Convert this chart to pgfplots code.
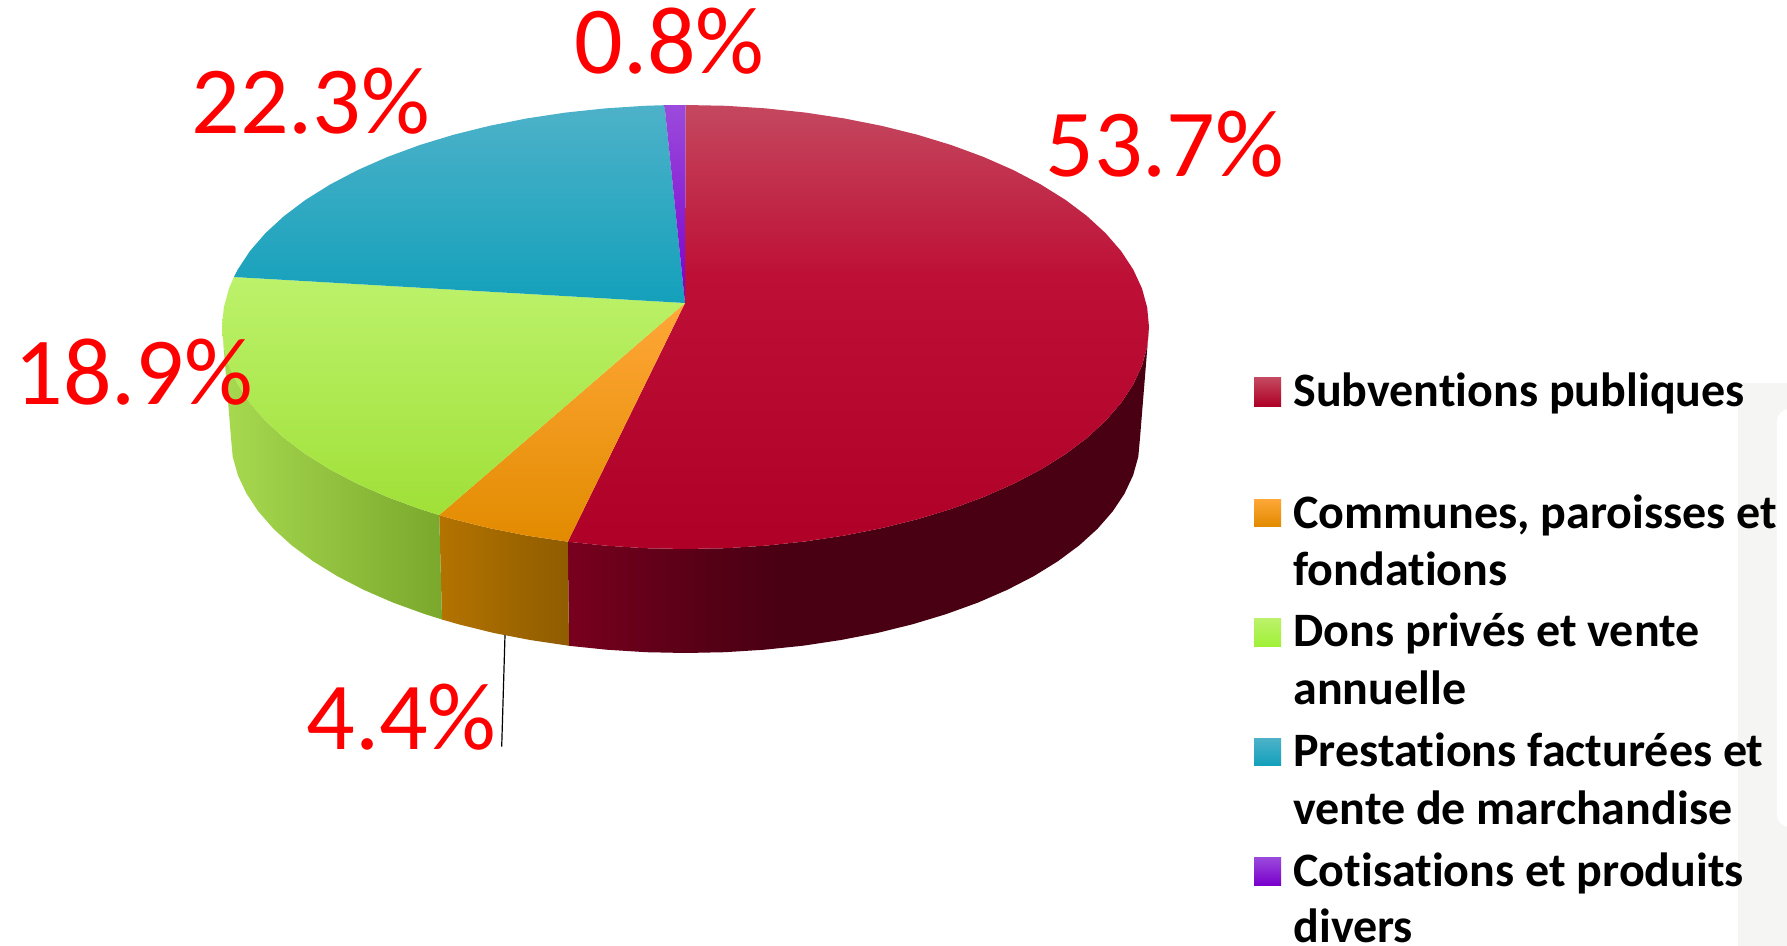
\documentclass[border=0pt]{standalone}
\usepackage{pgfplots}
\pgfplotsset{compat=1.18}
\usepackage{fontspec}
\setmainfont[Ligatures=NoCommon]{Carlito}
\definecolor{lbl}{HTML}{FF0000}
\definecolor{crA}{RGB}{196,72,95}
\definecolor{crB}{RGB}{190,16,54}
\definecolor{crC}{RGB}{175,0,39}
\definecolor{sdA}{RGB}{120,0,30}
\definecolor{sdB}{RGB}{86,0,22}
\definecolor{sdC}{RGB}{72,0,18}
\pgfdeclareverticalshading{crimsontop}{100bp}{color(0bp)=(crC); color(25bp)=(crC); color(56bp)=(crB); color(75bp)=(crA); color(100bp)=(crA)}
\pgfdeclarehorizontalshading{crimsonside}{100bp}{color(0bp)=(sdA); color(25bp)=(sdA); color(37bp)=(sdB); color(44bp)=(sdC); color(100bp)=(sdC)}
\newcommand{\pct}[1]{\fontsize{48}{56}\selectfont\color{lbl}#1}
\newcommand{\lgd}[1]{\fontsize{24}{28}\selectfont\bfseries #1}
\begin{document}
\begin{tikzpicture}
\useasboundingbox (0,0) rectangle (893.5pt,473pt);
\begin{axis}[
  scale only axis, width=893.5pt, height=473pt,
  xmin=0, xmax=1787, ymin=0, ymax=946, y dir=reverse,
  hide axis, clip=true]
% grey panel
\addplot[draw=none, fill={rgb,255:red,245;green,245;blue,243}] coordinates {(1738,383) (1787,383) (1787,946) (1738,946)} --cycle;
\addplot[draw=none, fill=white, rounded corners=6pt] coordinates {(1777,409) (1800,409) (1800,827) (1777,827)} --cycle;
% side faces
\addplot[draw=none, shading=crimsonside] coordinates {(1149,327) (1147.2,346.4) (1142,365.5) (1133.2,384.5) (1121.1,402.9) (1105.6,420.8) (1086.9,438) (1065.2,454.3) (1040.5,469.7) (1013.2,484) (983.4,497.1) (951.4,508.9) (917.3,519.3) (881.4,528.2) (844,535.6) (805.5,541.4) (766,545.6) (725.9,548.2) (685.5,549) (645.1,548.2) (605,545.6) (567.8,541.7) (569,645.8) (606.6,649.7) (645.9,652.2) (685.5,653) (725.1,652.2) (764.4,649.7) (803.1,645.7) (840.9,640) (877.6,632.9) (912.8,624.2) (946.2,614.1) (977.7,602.7) (1006.9,590) (1033.7,576.2) (1057.8,561.3) (1079.1,545.5) (1097.4,528.9) (1112.6,511.5) (1124.5,493.6) (1133.1,475.3) (1138.3,456.7) (1140,438)} --cycle;
\addplot[draw=none, left color={rgb,255:red,179;green,115;blue,0}, right color={rgb,255:red,143;green,92;blue,0}] coordinates {(567.8,541.7) (527,535.6) (489.6,528.2) (453.7,519.3) (439.2,515.1) (442,619.5) (458.2,624.2) (493.4,632.9) (530.1,640) (569,645.8)} --cycle;
\addplot[draw=none, left color={rgb,255:red,168;green,218;blue,80}, right color={rgb,255:red,122;green,168;blue,44}] coordinates {(439.2,515.1) (419.6,508.9) (387.6,497.1) (357.8,484) (330.5,469.7) (305.8,454.3) (284.1,438) (265.4,420.8) (249.9,402.9) (237.8,384.5) (229,365.5) (223.8,346.4) (222,327) (231,438) (232.7,456.7) (237.9,475.3) (246.5,493.6) (258.4,511.5) (273.6,528.9) (291.9,545.5) (313.2,561.3) (337.3,576.2) (364.1,590) (393.3,602.7) (424.8,614.1) (442,619.5)} --cycle;
% top faces
\addplot[draw=none, shading=crimsontop] coordinates {(685,303) (685.5,105) (725.9,105.8) (766,108.4) (805.5,112.6) (844,118.4) (881.4,125.8) (917.3,134.7) (951.4,145.1) (983.4,156.9) (1013.2,170) (1040.5,184.3) (1065.2,199.7) (1086.9,216) (1105.6,233.2) (1121.1,251.1) (1133.2,269.5) (1142,288.5) (1147.2,307.6) (1149,327) (1147.2,346.4) (1142,365.5) (1133.2,384.5) (1121.1,402.9) (1105.6,420.8) (1086.9,438) (1065.2,454.3) (1040.5,469.7) (1013.2,484) (983.4,497.1) (951.4,508.9) (917.3,519.3) (881.4,528.2) (844,535.6) (805.5,541.4) (766,545.6) (725.9,548.2) (685.5,549) (645.1,548.2) (605,545.6) (567.8,541.7)} --cycle;
\addplot[draw=none, top color={rgb,255:red,255;green,167;blue,56}, middle color={rgb,255:red,255;green,158;blue,18}, bottom color={rgb,255:red,226;green,139;blue,0}] coordinates {(685,303) (567.8,541.7) (527,535.6) (489.6,528.2) (453.7,519.3) (439.2,515.1)} --cycle;
\addplot[draw=none, top color={rgb,255:red,188;green,242;blue,107}, middle color={rgb,255:red,176;green,245;blue,74}, bottom color={rgb,255:red,160;green,224;blue,56}] coordinates {(685,303) (439.2,515.1) (419.6,508.9) (387.6,497.1) (357.8,484) (330.5,469.7) (305.8,454.3) (284.1,438) (265.4,420.8) (249.9,402.9) (237.8,384.5) (229,365.5) (223.8,346.4) (222,327) (223.8,307.6) (229,288.5) (233.9,277)} --cycle;
\addplot[draw=none, top color={rgb,255:red,77;green,178;blue,201}, middle color={rgb,255:red,34;green,175;blue,203}, bottom color={rgb,255:red,20;green,160;blue,187}] coordinates {(685,303) (233.9,277) (237.8,269.5) (249.9,251.1) (265.4,233.2) (284.1,216) (305.8,199.7) (330.5,184.3) (357.8,170) (387.6,156.9) (419.6,145.1) (453.7,134.7) (489.6,125.8) (527,118.4) (565.5,112.6) (605,108.4) (645.1,105.8) (664.5,105.2)} --cycle;
\addplot[draw=none, top color={rgb,255:red,155;green,75;blue,220}, bottom color={rgb,255:red,122;green,0;blue,204}] coordinates {(685,303) (664.5,105.2) (685.5,105)} --cycle;
% leader
\addplot[black, line width=0.6pt] coordinates {(505,635) (501.7,746.7)};
% legend keys
\addplot[draw=none, top color={rgb,255:red,196;green,72;blue,95}, bottom color={rgb,255:red,175;green,0;blue,39}] coordinates {(1254,378) (1281,378) (1281,406) (1254,406)} --cycle;
\addplot[draw=none, top color={rgb,255:red,255;green,167;blue,56}, bottom color={rgb,255:red,226;green,139;blue,0}] coordinates {(1254,499) (1281,499) (1281,526) (1254,526)} --cycle;
\addplot[draw=none, top color={rgb,255:red,188;green,242;blue,107}, bottom color={rgb,255:red,160;green,240;blue,56}] coordinates {(1254,618) (1281,618) (1281,646) (1254,646)} --cycle;
\addplot[draw=none, top color={rgb,255:red,77;green,178;blue,201}, bottom color={rgb,255:red,20;green,160;blue,187}] coordinates {(1254,738) (1281,738) (1281,765) (1254,765)} --cycle;
\addplot[draw=none, top color={rgb,255:red,155;green,75;blue,220}, bottom color={rgb,255:red,122;green,0;blue,204}] coordinates {(1254,857) (1281,857) (1281,885) (1254,885)} --cycle;
% labels
\node[anchor=base west, inner sep=0pt] at (axis cs:574,74) {\pct{0.8\%}};
\node[anchor=base west, inner sep=0pt] at (axis cs:191,134) {\pct{22.3\%}};
\node[anchor=base west, inner sep=0pt] at (axis cs:1045,177) {\pct{53.7\%}};
\node[anchor=base west, inner sep=0pt] at (axis cs:14,405) {\pct{18.9\%}};
\node[anchor=base west, inner sep=0pt] at (axis cs:306,749) {\pct{4.4\%}};
% legend text
\node[anchor=base west, inner sep=0pt] at (axis cs:1293,407) {\lgd{Subventions publiques}};
\node[anchor=base west, inner sep=0pt] at (axis cs:1293,528) {\lgd{Communes, paroisses et}};
\node[anchor=base west, inner sep=0pt] at (axis cs:1293,585) {\lgd{fondations}};
\node[anchor=base west, inner sep=0pt] at (axis cs:1293,646) {\lgd{Dons privés et vente}};
\node[anchor=base west, inner sep=0pt] at (axis cs:1293,704) {\lgd{annuelle}};
\node[anchor=base west, inner sep=0pt] at (axis cs:1293,766) {\lgd{Prestations facturées et}};
\node[anchor=base west, inner sep=0pt] at (axis cs:1293,824) {\lgd{vente de marchandise}};
\node[anchor=base west, inner sep=0pt] at (axis cs:1293,886) {\lgd{Cotisations et produits}};
\node[anchor=base west, inner sep=0pt] at (axis cs:1293,942) {\lgd{divers}};
\end{axis}
\end{tikzpicture}
\end{document}
